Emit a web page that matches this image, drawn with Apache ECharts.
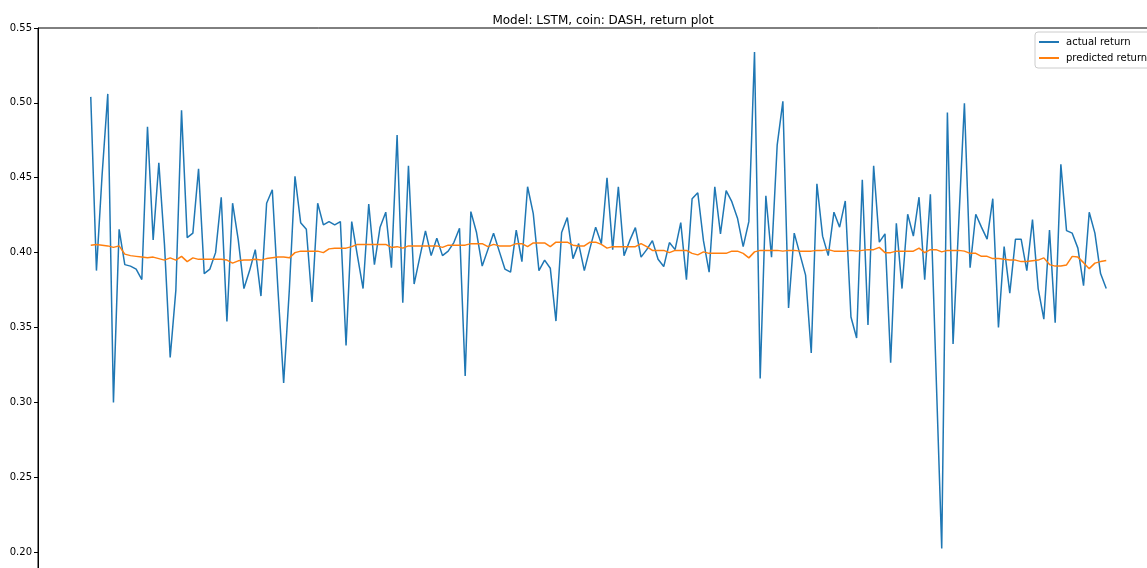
<!DOCTYPE html>
<html>
<head>
<meta charset="utf-8">
<script src="https://cdn.jsdelivr.net/npm/echarts@6/dist/echarts.min.js"></script>
<style>
html,body{margin:0;padding:0;background:#fff;overflow:hidden;width:1147px;height:568px;}
#chart{width:1159px;height:627px;}
</style>
</head>
<body>
<div id="chart"></div>
<script>
const titleText = "Model: LSTM, coin: DASH, return plot";
const seriesNames = ["actual return", "predicted return"];
const yTicks = [0.20, 0.25, 0.30, 0.35, 0.40, 0.45, 0.50, 0.55];

const actual = [
0.504,0.388,0.452,0.506,0.300,0.4156,0.392,0.391,0.389,0.382,
0.484,0.4085,0.460,0.405,0.330,0.375,0.495,0.410,0.413,0.456,
0.386,0.389,0.400,0.437,0.354,0.433,0.4085,0.376,0.388,0.402,
0.371,0.433,0.442,0.375,0.313,0.375,0.451,0.420,0.4156,0.367,
0.433,0.4185,0.4207,0.4185,0.4207,0.338,0.4207,0.398,0.376,0.4325,
0.392,0.417,0.427,0.390,0.4786,0.3666,0.458,0.379,0.397,0.4145,
0.398,0.4096,0.398,0.401,0.4067,0.4163,0.3176,0.4274,0.4134,0.391,
0.402,0.413,0.401,0.389,0.387,0.415,0.394,0.444,0.426,0.388,
0.395,0.3896,0.3543,0.4134,0.4234,0.396,0.406,0.388,0.403,0.417,
0.406,0.450,0.402,0.444,0.398,0.408,0.4167,0.397,0.402,0.408,
0.3956,0.3907,0.4067,0.402,0.420,0.382,0.436,0.440,0.408,0.387,
0.444,0.4125,0.4414,0.434,0.423,0.404,0.4207,0.534,0.316,0.438,
0.397,0.472,0.501,0.363,0.413,0.399,0.385,0.333,0.446,0.411,
0.398,0.427,0.417,0.4345,0.357,0.343,0.4486,0.3517,0.458,0.407,
0.4125,0.3265,0.4196,0.376,0.4256,0.411,0.437,0.382,0.439,0.320,
0.2025,0.4935,0.339,0.420,0.4998,0.390,0.4256,0.417,0.409,0.436,
0.350,0.404,0.373,0.409,0.409,0.388,0.422,0.376,0.3556,0.415,
0.3532,0.459,0.4147,0.413,0.403,0.378,0.427,0.413,0.386,0.376
];

const predicted = [
0.405,0.4055,0.405,0.4045,0.4035,0.4045,0.399,0.398,0.3975,0.397,
0.3965,0.397,0.396,0.395,0.3965,0.395,0.3975,0.394,0.3965,0.3955,
0.3955,0.3955,0.3955,0.3955,0.395,0.393,0.3945,0.395,0.395,0.3955,
0.395,0.396,0.3965,0.397,0.397,0.3965,0.400,0.401,0.401,0.401,
0.401,0.400,0.4025,0.403,0.403,0.403,0.404,0.4055,0.4055,0.4055,
0.4055,0.4055,0.4055,0.4035,0.404,0.403,0.4045,0.4045,0.4045,0.4045,
0.4045,0.4045,0.4035,0.405,0.405,0.405,0.405,0.406,0.406,0.406,
0.404,0.4055,0.4045,0.4045,0.4045,0.406,0.406,0.404,0.4065,0.4065,
0.4065,0.404,0.407,0.407,0.407,0.405,0.4045,0.4045,0.407,0.407,
0.4055,0.403,0.404,0.404,0.404,0.404,0.404,0.406,0.404,0.4015,
0.4015,0.4015,0.400,0.4015,0.4015,0.4015,0.3995,0.3985,0.4005,0.3995,
0.3995,0.3995,0.3995,0.401,0.401,0.3995,0.3965,0.4005,0.4015,0.4015,
0.4015,0.4015,0.401,0.4015,0.4015,0.401,0.401,0.401,0.4015,0.4015,
0.402,0.401,0.401,0.401,0.4015,0.401,0.4015,0.402,0.402,0.4035,
0.400,0.400,0.401,0.401,0.401,0.401,0.403,0.400,0.402,0.402,
0.4005,0.4015,0.4015,0.4015,0.401,0.3995,0.3995,0.3975,0.3975,0.396,
0.396,0.3955,0.395,0.395,0.394,0.394,0.3945,0.395,0.3965,0.392,
0.391,0.391,0.3918,0.3975,0.397,0.3933,0.3893,0.393,0.394,0.3947
];

const chart = echarts.init(document.getElementById('chart'), null, {renderer: 'canvas'});
const font = "DejaVu Sans";
const toPairs = arr => arr.map((v, i) => [i, v]);

chart.setOption({
  animation: false,
  backgroundColor: '#fff',
  title: {
    text: titleText,
    left: 598,
    top: 10,
    textAlign: 'center',
    textStyle: {fontFamily: font, fontSize: 12, fontWeight: 'normal', color: '#000'}
  },
  legend: {
    data: seriesNames,
    orient: 'vertical',
    left: 1035,
    top: 32,
    padding: [4, 6, 4, 4],
    itemGap: 4,
    itemWidth: 20,
    itemHeight: 2,
    icon: 'rect',
    backgroundColor: 'rgba(255,255,255,0.8)',
    borderColor: '#cccccc',
    borderWidth: 1,
    borderRadius: 3,
    textStyle: {fontFamily: font, fontSize: 10, color: '#000', lineHeight: 12, padding: [0, 0, 0, 2]}
  },
  grid: {
    left: 38,
    top: 28,
    right: 0,
    bottom: 0,
    show: true,
    borderColor: '#000',
    borderWidth: 1,
    backgroundColor: 'transparent'
  },
  xAxis: {
    type: 'value',
    min: -9.3,
    max: 188.3,
    axisLine: {show: false},
    axisTick: {show: false},
    axisLabel: {show: false},
    splitLine: {show: false}
  },
  yAxis: {
    type: 'value',
    min: 0.15,
    max: 0.55,
    interval: 0.05,
    axisLine: {show: true, onZero: false, lineStyle: {color: '#000', width: 1}},
    axisTick: {show: true, length: 4, lineStyle: {color: '#000', width: 1}},
    axisLabel: {
      fontFamily: font, fontSize: 10, color: '#000', margin: 6,
      formatter: v => {
        const t = yTicks.find(x => Math.abs(x - v) < 1e-6);
        return t === undefined ? '' : t.toFixed(2);
      }
    },
    splitLine: {show: false}
  },
  series: [
    {
      name: seriesNames[0],
      type: 'line',
      data: toPairs(actual),
      showSymbol: false,
      symbol: 'none',
      color: '#1f77b4',
      lineStyle: {color: '#1f77b4', width: 1.5},
      z: 2
    },
    {
      name: seriesNames[1],
      type: 'line',
      data: toPairs(predicted),
      showSymbol: false,
      symbol: 'none',
      color: '#ff7f0e',
      lineStyle: {color: '#ff7f0e', width: 1.5},
      z: 3
    }
  ]
});
</script>
</body>
</html>
